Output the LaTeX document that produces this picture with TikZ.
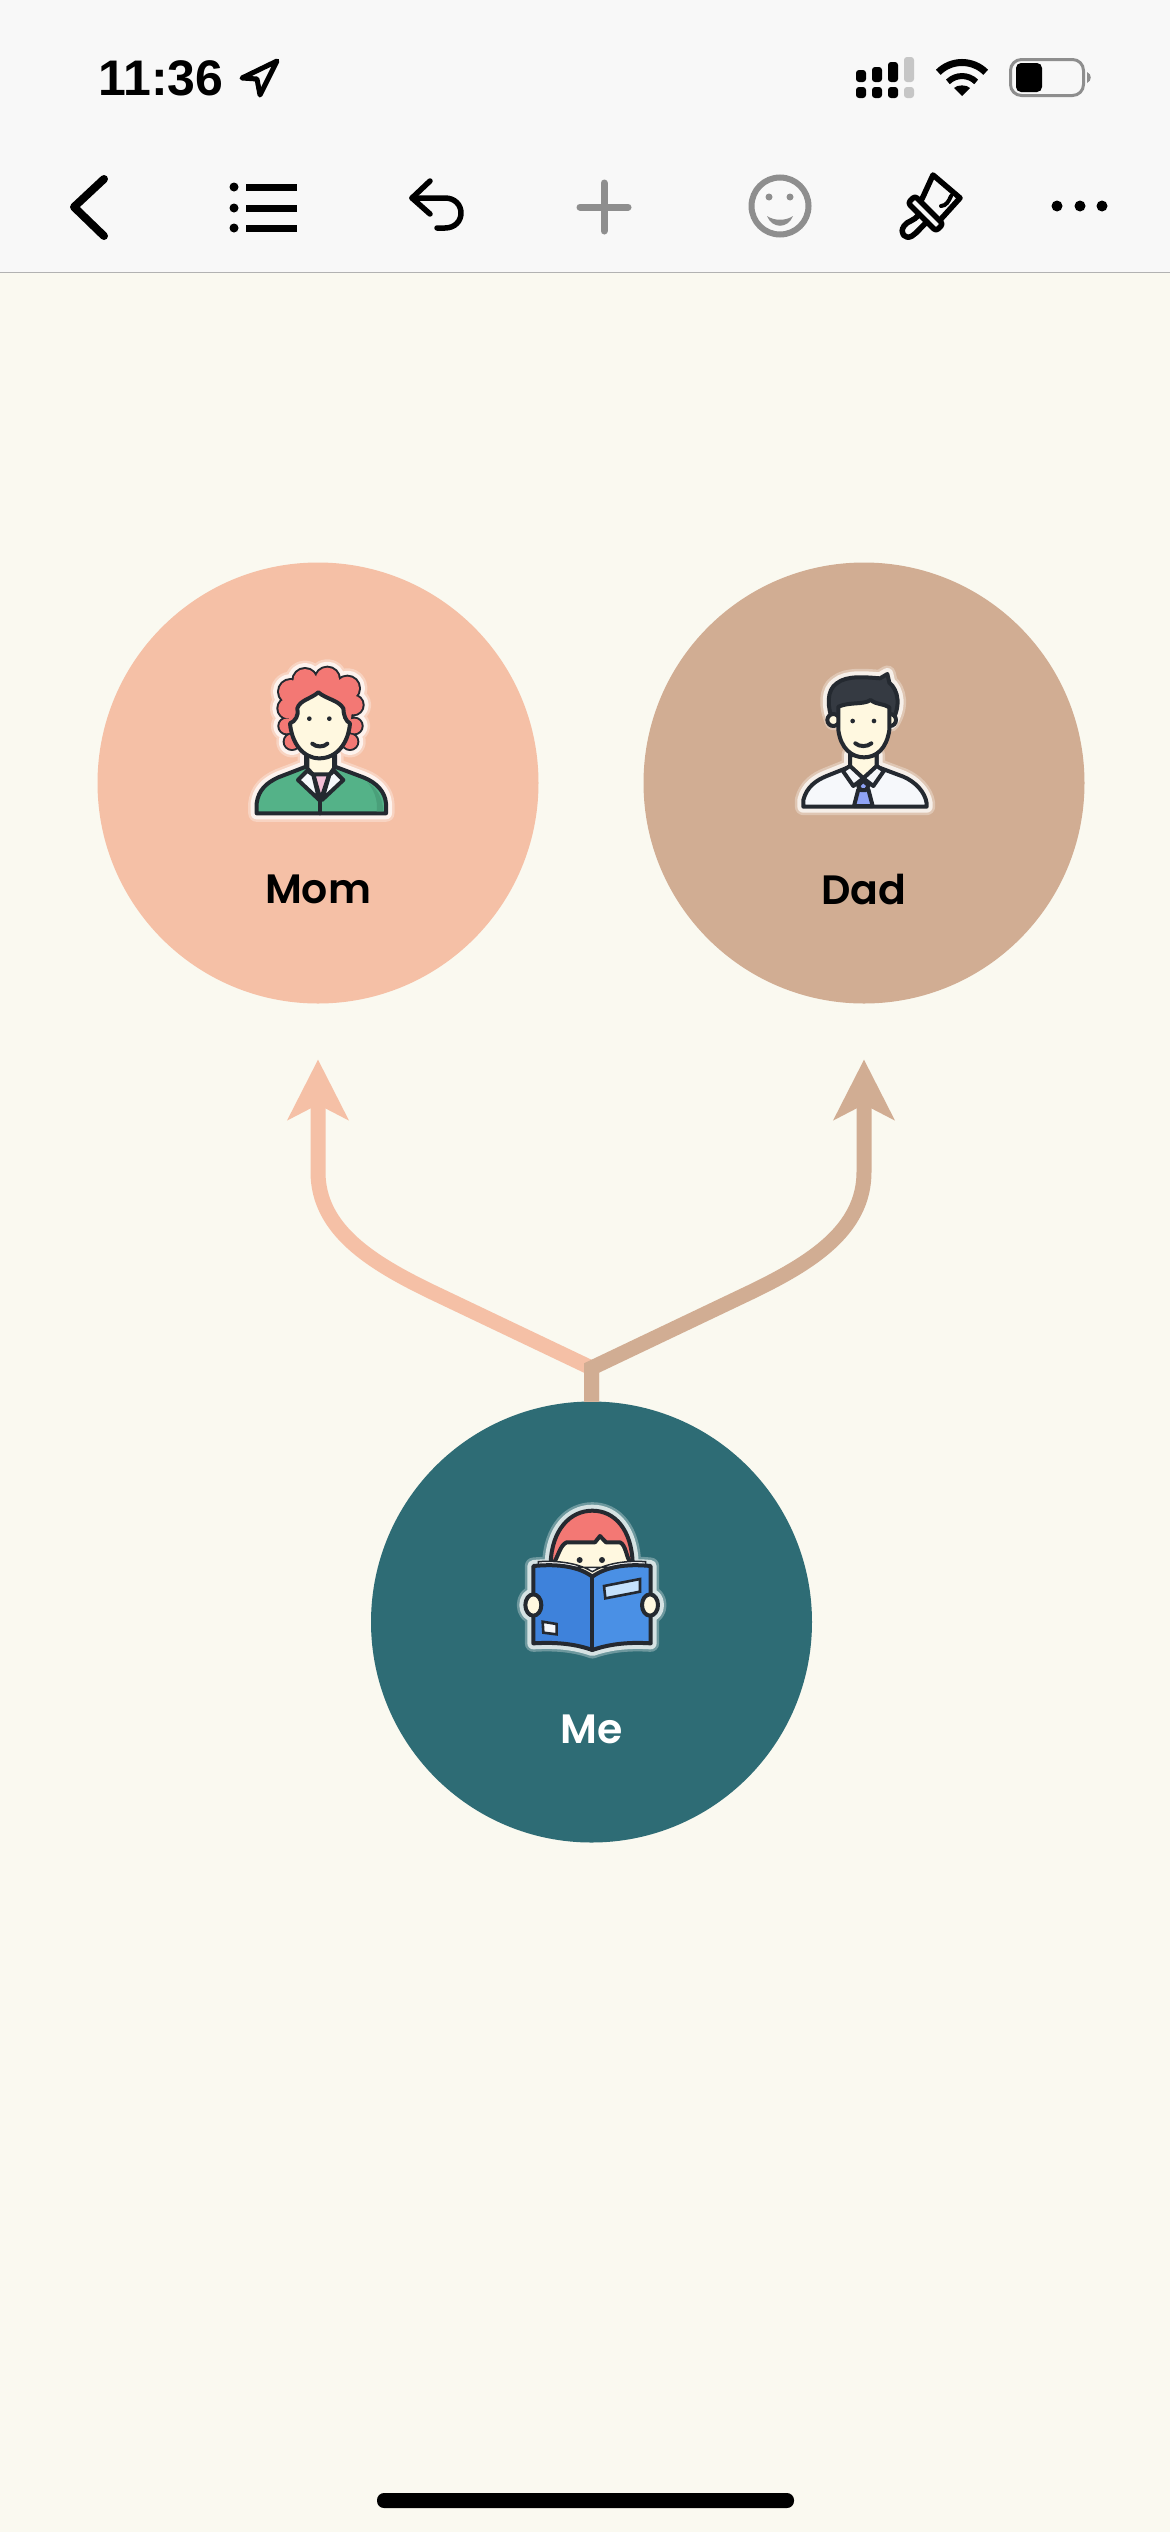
\documentclass[tikz,border=0pt]{standalone}
\usepackage{fontspec}
\setmainfont{Poppins SemiBold}
\newfontfamily\clockfont{Liberation Sans Bold}
\usetikzlibrary{arrows.meta,positioning}
\definecolor{canvas}{RGB}{250,249,240}
\definecolor{barfill}{RGB}{248,248,248}
\definecolor{barline}{RGB}{178,178,178}
\definecolor{dimgray}{RGB}{142,142,142}
\definecolor{paleGray}{RGB}{198,198,198}
\definecolor{momfill}{RGB}{245,192,166}
\definecolor{dadfill}{RGB}{209,173,147}
\definecolor{mefill}{RGB}{46,108,117}
\definecolor{inkdark}{RGB}{36,41,48}
\definecolor{skin}{RGB}{255,248,224}
\definecolor{hairred}{RGB}{243,120,116}
\definecolor{coatgreen}{RGB}{84,178,136}
\definecolor{coatshade}{RGB}{74,160,122}
\definecolor{blouse}{RGB}{243,190,214}
\definecolor{shirtwhite}{RGB}{246,248,251}
\definecolor{tieblue}{RGB}{143,163,245}
\definecolor{hairdark}{RGB}{53,58,66}
\definecolor{bookleft}{RGB}{62,130,219}
\definecolor{bookright}{RGB}{74,144,229}
\definecolor{booktag}{RGB}{197,226,253}
\tikzset{
  ink/.style={draw=inkdark,line width=4pt,line join=round,line cap=round},
  glyph/.style={draw=black,line width=#1,line join=round,line cap=round},
  link/.style={line width=15pt,line join=miter,miter limit=10,shorten >=56pt,
    -{Stealth[length=60pt,width=60pt,inset=15pt]}},
  iconframe/.style={shift={#1},x=0.33333pt,y=-0.33333pt}
}
% halo behind an icon, soft edge then solid edge
\newcommand{\halo}[2]{%
  \path[draw=white!30!#1,fill=white!30!#1,line width=17pt,line join=round] #2;
  \path[draw=white!80!#1,fill=white!80!#1,line width=12pt,line join=round] #2;
}
\def\momhair{(255,122) circle[radius=35] (322,118) circle[radius=35] (382,145) circle[radius=35]
  (212,155) circle[radius=35] (400,195) circle[radius=28] (205,205) circle[radius=30]
  (300,215) circle[radius=95] (200,258) circle[radius=22] (216,305) circle[radius=22]
  (403,258) circle[radius=22] (390,305) circle[radius=22]}
\def\mombody{(110,520) -- (110,490) .. controls (115,450) and (140,428) .. (175,412) -- (258,380)
  -- (258,345) -- (345,345) -- (345,380) -- (430,412) .. controls (470,428) and (495,455) .. (498,490)
  -- (498,520) -- cycle}
\def\dadtop{(190,215) .. controls (170,170) and (170,120) .. (200,100) .. controls (230,75) and (290,82) .. (330,85)
  -- (352,72) -- (358,98) .. controls (385,120) and (395,170) .. (362,220) -- cycle}
\def\dadbody{(100,470) -- (100,450) .. controls (110,410) and (140,390) .. (170,378) -- (240,350)
  -- (240,315) -- (320,315) -- (320,350) -- (400,380) .. controls (435,395) and (465,425) .. (470,460)
  -- (470,470) -- cycle}
\def\medome{(152,250) .. controls (155,150) and (210,92) .. (277,92) .. controls (345,92) and (395,150) .. (398,250) -- cycle}
\def\mebook{(100,258) .. controls (180,250) and (240,262) .. (277,290) .. controls (315,262) and (375,250) .. (452,258)
  -- (452,490) .. controls (375,485) and (320,495) .. (277,510) .. controls (235,495) and (180,485) .. (100,490) -- cycle}
\begin{document}
\begin{tikzpicture}[x=1pt,y=-1pt,node distance=546pt]
\tikzstyle{person}=[circle,minimum size=441pt,inner sep=0pt,outer sep=0pt]
\tikzstyle{caption}=[font=\fontsize{41}{48}\selectfont,inner sep=0pt]
\useasboundingbox (0,0) rectangle (1170,2532);
\fill[canvas] (0,0) rectangle (1170,2532);
\fill[barfill] (0,0) rectangle (1170,272);
\draw[barline,line width=1.6pt] (0,272.5) -- (1170,272.5);

% status bar
\node[anchor=west,inner sep=0pt,font=\fontsize{50}{60}\selectfont\clockfont] (clock) at (98,78) {11:36};
\draw[glyph=5pt] (277,61) -- (242,78) -- (257,79) -- (260,95) -- cycle;
\foreach \x/\y in {861/70,877/67,893/62} {
  \fill[black,rounded corners=3pt] (\x-5,\y) rectangle (\x+5,82);
  \fill[black,rounded corners=3pt] (\x-5,87) rectangle (\x+5,98);
}
\fill[paleGray,rounded corners=3pt] (904,57) rectangle (914,82);
\fill[paleGray,rounded corners=3pt] (904,87) rectangle (914,98);
\draw[black,line width=7pt] (938.3,72.3) arc[start angle=135,end angle=45,radius=33.5pt];
\draw[black,line width=6pt] (947.9,81.9) arc[start angle=135,end angle=45,radius=20pt];
\fill[black] (962,96) -- (954,88) .. controls (957,84.5) and (967,84.5) .. (970,88) -- cycle;
\draw[dimgray,line width=3pt,rounded corners=11pt] (1010.5,59.5) rectangle (1083.5,95.5);
\fill[black,rounded corners=5pt] (1016,63) rectangle (1042,92);
\fill[dimgray] (1087,72) .. controls (1092,74) and (1092,81) .. (1087,83) -- cycle;

% tool bar
\draw[glyph=8pt] (104,179) -- (74,207) -- (104,236);
\foreach \y in {187,208,228} {
  \fill[black] (234,\y) circle[radius=4.5];
  \draw[black,line width=7pt] (246,\y) -- (297,\y);
}
\draw[glyph=5.5pt] (430,181) -- (412,198) -- (430,214);
\draw[glyph=5.5pt] (412,198) -- (445,198) .. controls (455,198) and (461,205) .. (461,213)
  .. controls (461,221) and (455,228) .. (445,228) -- (437,228);
\draw[dimgray,line width=7pt,line cap=round] (580,207) -- (628,207);
\draw[dimgray,line width=7pt,line cap=round] (604,183) -- (604,231);
\draw[dimgray,line width=6pt] (780,206) circle[radius=28.5];
\fill[dimgray] (769,197) circle[radius=3.5] (790,197) circle[radius=3.5];
\fill[dimgray] (767,216) .. controls (772,229) and (788,229) .. (793,216) .. controls (786,221) and (774,221) .. (767,216) -- cycle;
\draw[glyph=5.5pt] (922,199) -- (933,175) -- (960,198) -- (941,219);
\draw[glyph=4pt] (941,206) .. controls (946,206) and (949,201) .. (951,196);
\draw[glyph=5.5pt,rounded corners=3pt] (908,203) -- (915,196) -- (943,224) -- (936,231) -- cycle;
\draw[glyph=5.5pt] (919,214) .. controls (914,222) and (908,220) .. (904,226)
  .. controls (899,233) and (905,240) .. (912,236) .. controls (918,232) and (920,228) .. (927,222);
\fill[black] (1057,206) circle[radius=5.5] (1080,206) circle[radius=5.5] (1102,206) circle[radius=5.5];

% people
\node[person,fill=momfill] (mom) at (318,783) {};
\node[person,fill=dadfill] (dad) [right of=mom] {};
\node[person,fill=mefill] (me) at (591.5,1622) {};
\node[caption,text=black] (momlabel) at (318,889.5) {Mom};
\node[caption,text=black] (dadlabel) at (864,889.5) {Dad};
\node[caption,text=white] (melabel) at (591.5,1729.5) {Me};

% connectors
\coordinate (joint) at (591.5,1368);
\coordinate (momturn) at (432,1292);
\coordinate (momrise) at (318,1172);
\coordinate (dadturn) at (751,1292);
\coordinate (dadrise) at (864,1172);
\draw[link,momfill] (me.north) -- (joint) -- (momturn) .. controls (372,1263) and (318,1230) .. (momrise) -- (mom.south);
\draw[link,dadfill] (me.north) -- (joint) -- (dadturn) .. controls (811,1263) and (864,1230) .. (dadrise) -- (dad.south);

% mom icon
\begin{scope}[iconframe={(220,640)}]
\halo{momfill}{\momhair \mombody}
\path[ink,fill=hairred] \momhair;
\fill[hairred] \momhair;
\path[ink,fill=coatgreen] \mombody;
\fill[coatshade] (440,425) .. controls (470,445) and (488,470) .. (490,514) -- (470,514) .. controls (475,480) and (460,445) .. (440,425) -- cycle;
\path[ink,fill=skin] (262,345) -- (262,385) -- (280,405) -- (328,405) -- (342,385) -- (342,345) -- cycle;
\path[ink,fill=blouse] (280,403) -- (328,403) -- (302,480) -- cycle;
\path[ink,fill=shirtwhite] (262,392) -- (234,420) -- (298,480) -- (280,405) -- cycle;
\path[ink,fill=shirtwhite] (342,392) -- (370,420) -- (306,480) -- (328,405) -- cycle;
\draw[ink] (301,480) -- (301,520);
\path[ink,fill=skin] (210,250) .. controls (225,245) and (238,225) .. (232,205) .. controls (240,180) and (270,178) .. (295,157)
  .. controls (320,178) and (355,180) .. (370,205) .. controls (370,225) and (378,245) .. (390,250)
  .. controls (385,310) and (350,355) .. (298,355) .. controls (250,355) and (215,310) .. (210,250) -- cycle;
\fill[inkdark] (268,236) circle[radius=7] (328,236) circle[radius=7];
\draw[ink] (277,311) .. controls (288,322) and (312,322) .. (322,311);
\end{scope}

% dad icon
\begin{scope}[iconframe={(770,650)}]
\halo{dadfill}{\dadtop \dadbody}
\path[ink,fill=shirtwhite] \dadbody;
\path[ink,fill=skin] (240,315) -- (240,350) -- (280,385) -- (320,350) -- (320,315) -- cycle;
\path[ink,fill=hairdark] \dadtop;
\path[ink,fill=skin] (190,210) circle[radius=18] (360,210) circle[radius=18];
\path[ink,fill=skin] (205,170) .. controls (240,155) and (280,165) .. (302,150) .. controls (320,165) and (340,160) .. (358,172)
  -- (358,240) .. controls (350,295) and (320,322) .. (282,322) .. controls (245,322) and (212,295) .. (205,240) -- cycle;
\fill[inkdark] (248,213) circle[radius=7] (312,213) circle[radius=7];
\draw[ink] (256,280) .. controls (268,291) and (292,291) .. (304,280);
\path[ink,fill=tieblue] (265,418) -- (295,418) -- (308,468) -- (252,468) -- cycle;
\path[ink,fill=tieblue] (264,407) -- (280,392) -- (296,407) -- (288,420) -- (272,420) -- cycle;
\path[ink,fill=shirtwhite] (218,362) -- (240,348) -- (280,385) -- (250,408) -- cycle;
\path[ink,fill=shirtwhite] (342,362) -- (320,348) -- (280,385) -- (310,408) -- cycle;
\end{scope}

% me icon
\begin{scope}[iconframe={(500,1480)}]
\halo{mefill}{\medome \mebook (100,375) ellipse[x radius=24,y radius=32] (450,375) ellipse[x radius=24,y radius=32]}
\path[ink,fill=hairred] \medome;
\path[ink,fill=skin] (160,250) .. controls (175,230) and (180,195) .. (200,187) -- (285,187) -- (300,168) -- (318,187)
  -- (360,187) .. controls (378,195) and (378,230) .. (392,250) -- (277,290) -- cycle;
\fill[inkdark] (239,240) circle[radius=9] (306,240) circle[radius=9];
\path[draw=inkdark,line width=1.5pt,fill=white] (115,245) .. controls (190,240) and (245,255) .. (277,275) .. controls (310,255) and (365,240) .. (437,245) -- (437,262) -- (115,262) -- cycle;
\fill[bookright] \mebook;
\fill[bookleft] (100,258) .. controls (180,250) and (240,262) .. (277,290) -- (277,510) .. controls (235,495) and (180,485) .. (100,490) -- cycle;
\path[ink] \mebook;
\draw[ink] (277,290) -- (277,510);
\path[draw=inkdark,line width=2.6pt,fill=booktag] (312,318) -- (420,297) -- (420,335) -- (316,355) -- cycle;
\path[draw=inkdark,line width=2.6pt,fill=shirtwhite] (128,425) -- (170,432) -- (170,463) -- (130,458) -- cycle;
\path[ink,fill=skin] (100,375) ellipse[x radius=24,y radius=32];
\path[ink,fill=skin] (450,375) ellipse[x radius=24,y radius=32];
\end{scope}

% home indicator
\fill[black,rounded corners=7pt] (377,2493) rectangle (794,2508);
\end{tikzpicture}
\end{document}
